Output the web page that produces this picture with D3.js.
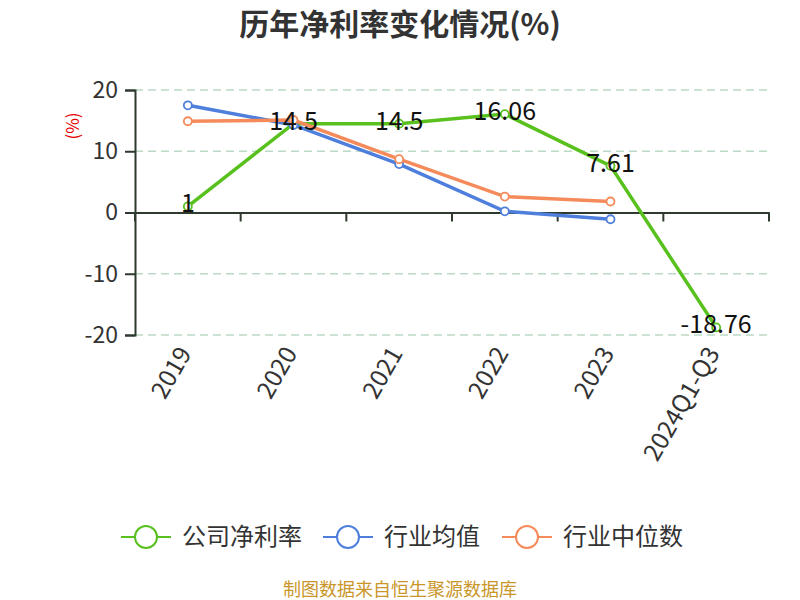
<!DOCTYPE html>
<html>
<head>
<meta charset="utf-8">
<script src="https://cdn.jsdelivr.net/npm/d3@7"></script>
<style>
  body { margin: 0; background: #fff; }
  text { font-family: "Noto Sans CJK SC", "Noto Sans", sans-serif; }
</style>
</head>
<body>
<svg id="chart" width="800" height="600"></svg>
<script>
const categories = ["2019", "2020", "2021", "2022", "2023", "2024Q1-Q3"];
const companyRate = [1, 14.5, 14.5, 16.06, 7.61, -18.76];
const industryAvg = [17.5, 14.3, 7.9, 0.2, -1.1, null];
const industryMedian = [14.9, 15.1, 8.7, 2.6, 1.8, null];
const yTicks = [-20, -10, 0, 10, 20];

const series = [
  { name: "公司净利率", values: companyRate, color: "#58c11d" },
  { name: "行业均值", values: industryAvg, color: "#4f7fdc" },
  { name: "行业中位数", values: industryMedian, color: "#f58a5b" }
];

const svg = d3.select("#chart");
const plotLeft = 135, plotRight = 769, plotTop = 90, plotBottom = 335;
const axisColor = "#2d3a2d";

const x = d3.scaleBand().domain(categories).range([plotLeft, plotRight]);
const y = d3.scaleLinear().domain([-20, 20]).range([plotBottom, plotTop]);
const cx = d => x(d) + x.bandwidth() / 2;

svg.append("text")
    .attr("x", 400).attr("y", 35)
    .attr("text-anchor", "middle")
    .attr("font-size", 30).attr("font-weight", "bold")
    .attr("fill", "#333")
    .text("历年净利率变化情况(%)");

// grid
svg.append("g")
  .selectAll("line")
  .data(yTicks.filter(t => t !== 0))
  .join("line")
    .attr("x1", plotLeft).attr("x2", plotRight)
    .attr("y1", d => y(d)).attr("y2", d => y(d))
    .attr("stroke", "#bcd9c5")
    .attr("stroke-width", 1.5)
    .attr("stroke-dasharray", "8,5");

// y axis
const yAxis = svg.append("g")
    .attr("transform", `translate(${plotLeft},0)`)
    .call(d3.axisLeft(y).tickValues(yTicks).tickSize(10).tickPadding(7)
      .tickFormat(d => String(d)));
yAxis.select(".domain").attr("stroke", axisColor).attr("stroke-width", 2);
yAxis.selectAll(".tick line").attr("stroke", axisColor).attr("stroke-width", 2);
yAxis.selectAll(".tick text")
    .attr("font-size", 23).attr("fill", "#333")
    .attr("font-family", "\"Noto Sans CJK SC\", sans-serif");

svg.append("text")
    .attr("transform", "translate(79,126) rotate(-90)")
    .attr("text-anchor", "middle")
    .attr("font-size", 17).attr("fill", "#e60000")
    .text("(%)");

// x axis at zero
const xAxis = svg.append("g")
    .attr("transform", `translate(0,${y(0)})`)
    .call(d3.axisBottom(x).tickSize(0).tickFormat(""));
xAxis.select(".domain").attr("stroke", axisColor).attr("stroke-width", 2);
xAxis.selectAll(".tick").remove();
xAxis.selectAll("line.bt")
  .data(d3.range(categories.length + 1))
  .join("line")
    .attr("class", "bt")
    .attr("x1", i => plotLeft + i * x.bandwidth())
    .attr("x2", i => plotLeft + i * x.bandwidth())
    .attr("y1", 0).attr("y2", 9)
    .attr("stroke", axisColor).attr("stroke-width", 2);

// x labels
svg.append("g")
  .selectAll("text")
  .data(categories)
  .join("text")
    .attr("transform", d => `translate(${cx(d) - 3},${plotBottom + 14}) rotate(-60)`)
    .attr("text-anchor", "end")
    .attr("dy", "0.35em")
    .attr("font-size", 24.5).attr("fill", "#333")
    .attr("font-family", "\"Noto Sans CJK SC\", sans-serif")
    .text(d => d);

const line = d3.line()
    .defined(d => d.v !== null)
    .x(d => cx(d.c))
    .y(d => y(d.v));

series.forEach(s => {
  const pts = categories.map((c, i) => ({ c, v: s.values[i] }));
  const g = svg.append("g");
  g.append("path")
      .datum(pts)
      .attr("fill", "none")
      .attr("stroke", s.color)
      .attr("stroke-width", 3.5)
      .attr("d", line);
  g.selectAll("circle")
    .data(pts.filter(d => d.v !== null))
    .join("circle")
      .attr("cx", d => cx(d.c))
      .attr("cy", d => y(d.v))
      .attr("r", 4)
      .attr("fill", "#fff")
      .attr("stroke", s.color)
      .attr("stroke-width", 1.8);
});

// data labels for company
svg.append("g")
  .selectAll("text")
  .data(categories.map((c, i) => ({ c, v: companyRate[i] })))
  .join("text")
    .attr("x", d => cx(d.c))
    .attr("y", d => y(d.v) + 6)
    .attr("text-anchor", "middle")
    .attr("font-size", 25).attr("fill", "#111")
    .attr("font-family", "\"Noto Sans CJK SC\", sans-serif")
    .text(d => d.v);

// legend
const legend = svg.append("g")
  .selectAll("g")
  .data(series)
  .join("g")
    .attr("transform", (d, i) => `translate(${[121, 323, 502][i]},537)`);
legend.append("line")
    .attr("x1", 0).attr("x2", 50)
    .attr("stroke", d => d.color).attr("stroke-width", 2);
legend.append("circle")
    .attr("cx", 25).attr("r", 11)
    .attr("fill", "#fff")
    .attr("stroke", d => d.color).attr("stroke-width", 2);
legend.append("text")
    .attr("x", 61).attr("dy", "0.35em")
    .attr("font-size", 24).attr("fill", "#333")
    .text(d => d.name);

svg.append("text")
    .attr("x", 400).attr("y", 596)
    .attr("text-anchor", "middle")
    .attr("font-size", 18).attr("fill", "#c9962a")
    .text("制图数据来自恒生聚源数据库");
</script>
</body>
</html>
